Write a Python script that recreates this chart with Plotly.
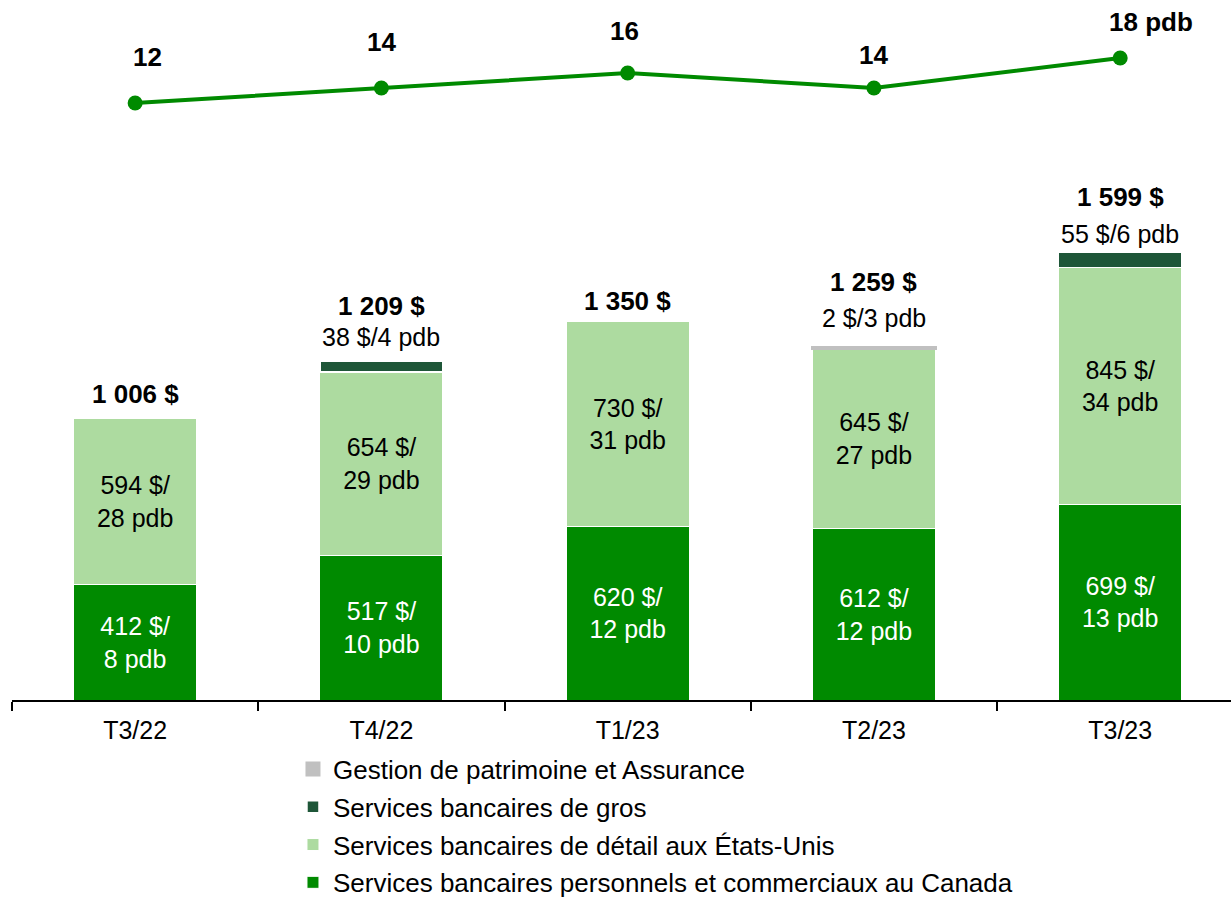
import plotly.graph_objects as go

quarters = ["T3/22", "T4/22", "T1/23", "T2/23", "T3/23"]
canada = [412, 517, 620, 612, 699]
canada_pdb = [8, 10, 12, 12, 13]
us_retail = [594, 654, 730, 645, 845]
us_retail_pdb = [28, 29, 31, 27, 34]
wholesale = [None, 38, None, None, 55]
wholesale_pdb = [None, 4, None, None, 6]
wealth = [None, None, None, 2, None]
wealth_pdb = [None, None, None, 3, None]
totals = [1006, 1209, 1350, 1259, 1599]
pcl_ratio = [12, 14, 16, 14, 18]

C_CAN = "#008A00"
C_US = "#ADDBA0"
C_WHS = "#1E5638"
C_WLT = "#C0C0C0"
FONT = "Arial, Liberation Sans, sans-serif"

# label offsets (pixels)
line_yshift = [46, 46, 42, 33, 36]
line_xshift = [12, 0, -3, 0, 31]
sub_yshift = [0, 8, 0, 13, 2]
tot_yshift = [7, 38, 4, 48, 38]


def fmt(v):
    return f"{v:,}".replace(",", " ")


fig = go.Figure()

fig.add_trace(go.Bar(
    x=quarters, y=canada, name="Services bancaires personnels et commerciaux au Canada",
    marker=dict(color=C_CAN, line=dict(color="white", width=1)),
    text=[f"{v} $/<br>{p} pdb" for v, p in zip(canada, canada_pdb)],
    textposition="inside", insidetextanchor="middle",
    textfont=dict(color="white", size=25, family=FONT),
    legendgroup="a", legendrank=4, hoverinfo="skip",
))
fig.add_trace(go.Bar(
    x=quarters, y=us_retail, name="Services bancaires de détail aux États-Unis",
    marker=dict(color=C_US, line=dict(color="white", width=1)),
    text=[f"{v} $/<br>{p} pdb" for v, p in zip(us_retail, us_retail_pdb)],
    textposition="inside", insidetextanchor="middle",
    textfont=dict(color="black", size=25, family=FONT),
    legendgroup="b", legendrank=3, hoverinfo="skip",
))
fig.add_trace(go.Bar(
    x=quarters, y=wholesale, name="Services bancaires de gros",
    marker=dict(color=C_WHS, line=dict(color="white", width=1.5)),
    legendgroup="c", legendrank=2, hoverinfo="skip",
))
fig.add_trace(go.Bar(
    x=quarters, y=wealth, name="Gestion de patrimoine et Assurance",
    marker=dict(color=C_WLT, line=dict(color=C_WLT, width=3)),
    legendgroup="d", legendrank=1, hoverinfo="skip",
))

fig.add_trace(go.Scatter(
    x=quarters, y=pcl_ratio, yaxis="y2", mode="lines+markers",
    line=dict(color=C_CAN, width=4), marker=dict(color=C_CAN, size=15),
    showlegend=False, hoverinfo="skip",
))

# line labels
for i, (q, v) in enumerate(zip(quarters, pcl_ratio)):
    txt = f"<b>{v}</b>" if i < len(quarters) - 1 else f"<b>{v} pdb</b>"
    fig.add_annotation(x=q, y=v, yref="y2", text=txt, showarrow=False,
                       yshift=line_yshift[i], xshift=line_xshift[i],
                       font=dict(size=26, family=FONT, color="black"))

# total and small-segment labels
for i, q in enumerate(quarters):
    small = None
    if wholesale[i] is not None:
        small = f"{wholesale[i]} $/{wholesale_pdb[i]} pdb"
    elif wealth[i] is not None:
        small = f"{wealth[i]} $/{wealth_pdb[i]} pdb"
    if small:
        fig.add_annotation(x=q, y=totals[i], text=small, showarrow=False,
                           yanchor="bottom", yshift=sub_yshift[i],
                           font=dict(size=25, family=FONT, color="black"))
    fig.add_annotation(x=q, y=totals[i], text=f"<b>{fmt(totals[i])} $</b>", showarrow=False,
                       yanchor="bottom", yshift=tot_yshift[i],
                       font=dict(size=26, family=FONT, color="black"))

fig.update_layout(
    width=1231, height=899,
    margin=dict(l=12, r=0, t=10, b=199, autoexpand=False),
    barmode="stack", bargap=0.5,
    plot_bgcolor="white", paper_bgcolor="white",
    font=dict(family=FONT, color="black"),
    xaxis=dict(
        type="category", range=[-0.5, 4.45], tickson="boundaries",
        ticks="outside", ticklen=9, tickwidth=1.5, tickcolor="black",
        showline=True, linecolor="black", linewidth=1.5,
        tickfont=dict(size=25, family=FONT, color="black"),
        ticklabelstandoff=7,
        showgrid=False, fixedrange=True,
    ),
    yaxis=dict(range=[0, 2464], visible=False, showgrid=False),
    yaxis2=dict(range=[-67.6, 24.4], overlaying="y", visible=False, showgrid=False),
    legend=dict(
        x=0.2305, y=-0.066, xanchor="left", yanchor="top",
        traceorder="grouped", tracegroupgap=1,
        font=dict(size=26, family=FONT, color="black"),
        bgcolor="rgba(0,0,0,0)",
    ),
    uniformtext=dict(minsize=25, mode="show"),
)

fig.write_html("out.html")
